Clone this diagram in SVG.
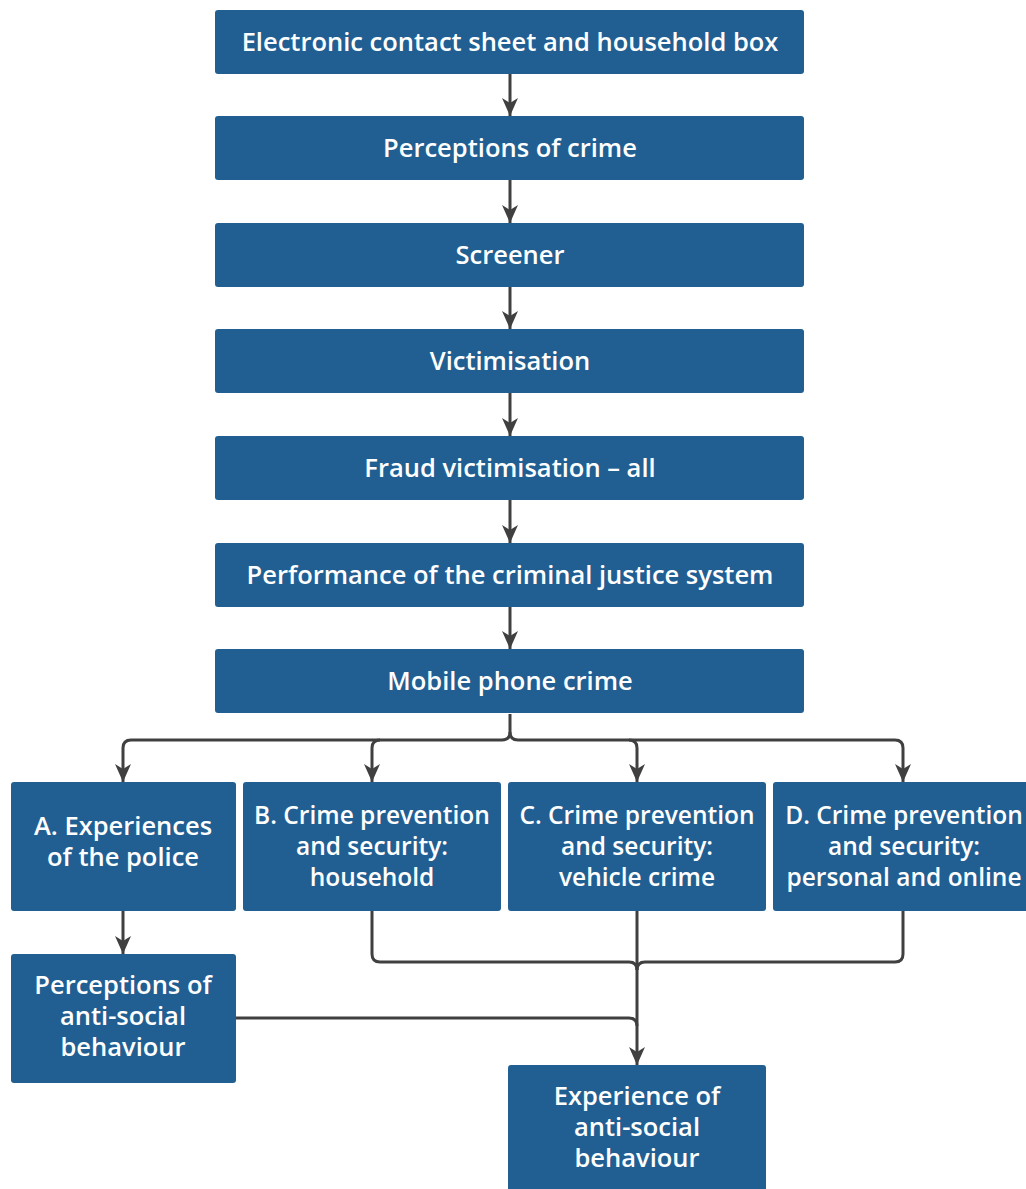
<svg xmlns="http://www.w3.org/2000/svg" width="1026" height="1189" viewBox="0 0 1026 1189">
<defs>
<style>
.box{fill:#215f93;}
.t{font-family:"Open Sans","Noto Sans",sans-serif;font-weight:600;font-size:25.5px;fill:#ffffff;text-anchor:middle;}
.s{font-size:24.5px;}
.c{fill:none;stroke:#404040;stroke-width:3;}
</style>
<marker id="arr" viewBox="0 0 18 18" refX="18" refY="9" markerWidth="18" markerHeight="18" markerUnits="userSpaceOnUse" orient="auto">
<path d="M0,1 L18,9 L0,17 L5,9 z" fill="#404040"/>
</marker>
</defs>
<rect width="1026" height="1189" fill="#ffffff"/>
<g id="connectors">
<path class="c" d="M510,74 V116" marker-end="url(#arr)"/>
<path class="c" d="M510,180 V223" marker-end="url(#arr)"/>
<path class="c" d="M510,287 V329" marker-end="url(#arr)"/>
<path class="c" d="M510,393 V436" marker-end="url(#arr)"/>
<path class="c" d="M510,500 V543" marker-end="url(#arr)"/>
<path class="c" d="M510,607 V649" marker-end="url(#arr)"/>
<path class="c" d="M510,714 V732 Q510,740 502,740 H131 Q123,740 123,748 V782" marker-end="url(#arr)"/>
<path class="c" d="M510,732 Q510,740 518,740 H895 Q903,740 903,748 V782" marker-end="url(#arr)"/>
<path class="c" d="M380,740 Q372,740 372,748 V782" marker-end="url(#arr)"/>
<path class="c" d="M629,740 Q637,740 637,748 V782" marker-end="url(#arr)"/>
<path class="c" d="M123,911 V954" marker-end="url(#arr)"/>
<path class="c" d="M372,911 V954 Q372,962 380,962 H629 Q637,962 637,970"/>
<path class="c" d="M903,911 V954 Q903,962 895,962 H645 Q637,962 637,970"/>
<path class="c" d="M637,911 V1065" marker-end="url(#arr)"/>
<path class="c" d="M236,1018 H629 Q637,1018 637,1026"/>
</g>
<g id="n1"><rect class="box" x="215" y="10" width="589" height="64" rx="3"/><text class="t" x="510" y="51">Electronic contact sheet and household box</text></g>
<g id="n2"><rect class="box" x="215" y="116" width="589" height="64" rx="3"/><text class="t" x="510" y="157">Perceptions of crime</text></g>
<g id="n3"><rect class="box" x="215" y="223" width="589" height="64" rx="3"/><text class="t" x="510" y="264">Screener</text></g>
<g id="n4"><rect class="box" x="215" y="329" width="589" height="64" rx="3"/><text class="t" x="510" y="370">Victimisation</text></g>
<g id="n5"><rect class="box" x="215" y="436" width="589" height="64" rx="3"/><text class="t" x="510" y="477">Fraud victimisation – all</text></g>
<g id="n6"><rect class="box" x="215" y="543" width="589" height="64" rx="3"/><text class="t" x="510" y="584">Performance of the criminal justice system</text></g>
<g id="n7"><rect class="box" x="215" y="649" width="589" height="64" rx="3"/><text class="t" x="510" y="690">Mobile phone crime</text></g>
<g id="nA"><rect class="box" x="11" y="782" width="225" height="129" rx="3"/><text class="t" x="123" y="835">A. Experiences<tspan x="123" dy="31">of the police</tspan></text></g>
<g id="nB"><rect class="box" x="243" y="782" width="258" height="129" rx="3"/><text class="t s" x="372" y="824">B. Crime prevention<tspan x="372" dy="31">and security:</tspan><tspan x="372" dy="31">household</tspan></text></g>
<g id="nC"><rect class="box" x="508" y="782" width="258" height="129" rx="3"/><text class="t s" x="637" y="824">C. Crime prevention<tspan x="637" dy="31">and security:</tspan><tspan x="637" dy="31">vehicle crime</tspan></text></g>
<g id="nD"><rect class="box" x="773" y="782" width="276" height="129" rx="3"/><text class="t s" x="904" y="824">D. Crime prevention<tspan x="904" dy="31">and security:</tspan><tspan x="904" dy="31">personal and online</tspan></text></g>
<g id="nP"><rect class="box" x="11" y="954" width="225" height="129" rx="3"/><text class="t" x="123" y="994">Perceptions of<tspan x="123" dy="31">anti-social</tspan><tspan x="123" dy="31">behaviour</tspan></text></g>
<g id="nE"><rect class="box" x="508" y="1065" width="258" height="130" rx="3"/><text class="t" x="637" y="1105">Experience of<tspan x="637" dy="31">anti-social</tspan><tspan x="637" dy="31">behaviour</tspan></text></g>
</svg>
